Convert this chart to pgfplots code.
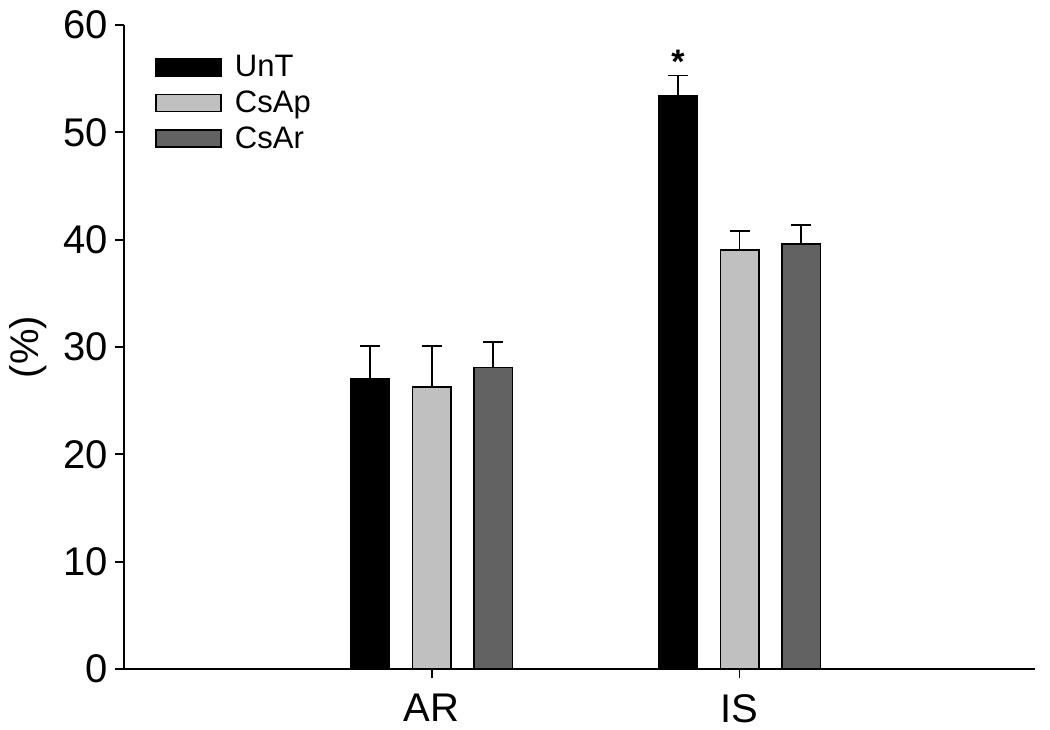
\documentclass[border=0pt]{standalone}
\usepackage{pgfplots}
\pgfplotsset{compat=1.18}
\usepackage{pgfplotstable}
\usepackage{fontspec}
\setmainfont{Liberation Sans}
\definecolor{lgray}{RGB}{192,192,192}
\definecolor{dgray}{RGB}{98,98,98}
\pgfplotstableread{
x y e
0.8 27.0 3.1
1.8 53.4 1.9
}\unt
\pgfplotstableread{
x y e
1.0 26.3 3.8
2.0 39.05 1.75
}\csap
\pgfplotstableread{
x y e
1.2 28.1 2.4
2.2 39.6 1.8
}\csar
\begin{document}
\begin{tikzpicture}
\path[use as bounding box] (-62pt,-30pt) rectangle (463pt,334.5pt);
\begin{axis}[
  at={(0,0)}, anchor=south west,
  scale only axis, width=455.5pt, height=322pt,
  xmin=0, xmax=2.96, ymin=0, ymax=60,
  axis x line*=bottom, axis y line*=left,
  axis line style={-, line width=0.9pt},
  xtick={1,2}, xticklabels={AR,IS},
  ytick={0,10,...,60},
  tick align=outside, major tick length=4.5pt,
  tick style={line width=0.9pt, black},
  tick label style={font=\fontsize{20}{24}\selectfont},
  xticklabel style={yshift=-4.5pt},
  /pgf/number format/assume math mode=true,
  ylabel={(\%)}, ylabel style={font=\fontsize{20}{24}\selectfont},
  ylabel shift=1.5pt,
  ybar, bar shift=0pt, bar width=0.125,
  clip=false,
  legend style={draw=none, fill=none, at={(15.5pt,308pt)}, anchor=north west,
    font=\fontsize{15.5}{18}\selectfont, row sep=3.5pt, inner sep=0pt,
    nodes={inner xsep=4pt, inner ysep=1pt}},
  legend cell align=left,
  legend image code/.code={\draw[#1, line width=0.8pt] (-4pt,-4.2pt) rectangle (28.5pt,4.2pt); \path (31pt,0pt);},
  error bars/y dir=plus, error bars/y explicit,
  error bars/error bar style={line width=0.9pt, black},
  error bars/error mark options={rotate=90, mark size=5pt, line width=0.9pt, black},
]
\addplot[draw=black, fill=black, line width=0.8pt] table[x=x, y=y, y error=e] {\unt};
\addlegendentry{UnT}
\addplot[draw=black, fill=lgray, line width=0.8pt] table[x=x, y=y, y error=e] {\csap};
\addlegendentry{CsAp}
\addplot[draw=black, fill=dgray, line width=0.8pt] table[x=x, y=y, y error=e] {\csar};
\addlegendentry{CsAr}
\node[font=\fontsize{17}{20}\selectfont\bfseries] at (axis cs:1.8,56.6) {*};
\end{axis}
\end{tikzpicture}
\end{document}
